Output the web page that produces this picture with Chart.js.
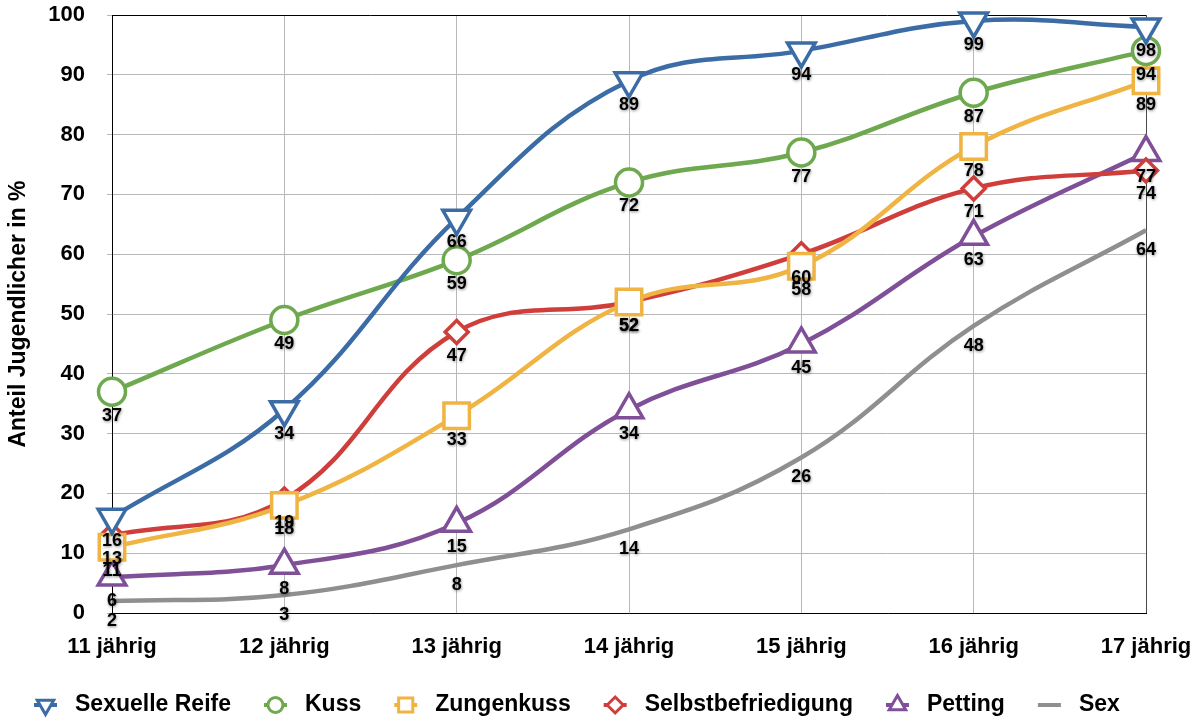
<!DOCTYPE html>
<html>
<head>
<meta charset="utf-8">
<script src="https://cdn.jsdelivr.net/npm/chart.js@4/dist/chart.umd.min.js"></script>
<style>
  html, body { margin: 0; padding: 0; background: #ffffff; }
  #wrap { width: 1196px; height: 722px; position: relative; }
</style>
</head>
<body>
<div id="wrap"><canvas id="chart"></canvas></div>
<script>
// Altersgruppen (x-Achse)
const ageGroups = ['11 jährig', '12 jährig', '13 jährig', '14 jährig', '15 jährig', '16 jährig', '17 jährig'];

// Anteil Jugendlicher in % je Erfahrung
const sexuelleReife      = [16, 34, 66, 89, 94, 99, 98];
const kuss               = [37, 49, 59, 72, 77, 87, 94];
const zungenkuss         = [11, 18, 33, 52, 58, 78, 89];
const selbstbefriedigung = [13, 19, 47, 52, 60, 71, 74];
const petting            = [6, 8, 15, 34, 45, 63, 77];
const sex                = [2, 3, 8, 14, 26, 48, 64];

// y-Achse
const yMin = 0, yMax = 100, yStep = 10;

const FONT = '"Liberation Sans", Arial, Helvetica, sans-serif';

function series(label, data, color, style, radius, rotation) {
  return {
    label, data,
    borderColor: color,
    backgroundColor: color,
    borderWidth: 4.5,
    tension: 0.4,
    pointStyle: style,
    pointRadius: radius,
    pointHoverRadius: radius,
    pointRotation: rotation || 0,
    pointBackgroundColor: '#ffffff',
    pointBorderColor: color,
    pointBorderWidth: 3.5,
    clip: false,
    labelOffset: radius > 0 ? 24 : 20
  };
}

const datasets = [
  series('Sexuelle Reife', sexuelleReife, '#3B6CA5', 'triangle', 16, 180),
  series('Kuss', kuss, '#6EA84F', 'circle', 13.5),
  series('Zungenkuss', zungenkuss, '#F0B443', 'rect', 18),
  series('Selbstbefriedigung', selbstbefriedigung, '#CF3E3A', 'rectRot', 11.5),
  series('Petting', petting, '#7F4F97', 'triangle', 16),
  series('Sex', sex, '#8F8F8F', 'circle', 0)
];

// Rahmen oben und rechts
const frame = {
  id: 'frame',
  beforeDatasetsDraw(chart) {
    const { ctx, chartArea: a } = chart;
    ctx.save();
    ctx.lineWidth = 1;
    ctx.strokeStyle = '#000000';
    ctx.beginPath();
    ctx.moveTo(a.left, Math.round(a.top) + 0.5);
    ctx.lineTo(a.right, Math.round(a.top) + 0.5);
    ctx.stroke();
    ctx.strokeStyle = '#4a4a4a';
    ctx.beginPath();
    ctx.moveTo(Math.round(a.right) + 0.5, a.top);
    ctx.lineTo(Math.round(a.right) + 0.5, a.bottom);
    ctx.stroke();
    ctx.restore();
  }
};

// Wertebeschriftung unter jedem Punkt
const valueLabels = {
  id: 'valueLabels',
  afterDatasetsDraw(chart) {
    const ctx = chart.ctx;
    ctx.save();
    ctx.font = 'bold 18px ' + FONT;
    ctx.textAlign = 'center';
    ctx.textBaseline = 'middle';
    ctx.shadowColor = 'rgba(0,0,0,0.45)';
    ctx.shadowBlur = 3;
    ctx.shadowOffsetX = 0.5;
    ctx.shadowOffsetY = 1;
    ctx.fillStyle = '#000000';
    chart.data.datasets.forEach((ds, i) => {
      const meta = chart.getDatasetMeta(i);
      meta.data.forEach((pt, j) => {
        ctx.fillText(String(ds.data[j]), pt.x, pt.y + ds.labelOffset);
      });
    });
    ctx.restore();
  }
};

// Legende: Liniensegment mit Markierung, daneben Text
const legendRow = {
  id: 'legendRow',
  afterDraw(chart) {
    const ctx = chart.ctx;
    ctx.save();
    ctx.font = 'bold 23px ' + FONT;
    ctx.textBaseline = 'middle';
    const y = 705;
    const segW = 23, gapText = 18, gapItem = 33;
    let x = 34;
    chart.data.datasets.forEach(ds => {
      ctx.strokeStyle = ds.borderColor;
      ctx.lineWidth = 4;
      ctx.beginPath();
      ctx.moveTo(x, y);
      ctx.lineTo(x + segW, y);
      ctx.stroke();
      if (ds.pointRadius > 0) {
        ctx.fillStyle = '#ffffff';
        ctx.strokeStyle = ds.borderColor;
        ctx.lineWidth = 3;
        const r = ds.pointStyle === 'rect' ? 10 : (ds.pointStyle === 'rectRot' ? 8 : (ds.pointStyle === 'circle' ? 7.5 : 9.5));
        Chart.helpers.drawPoint(ctx, {
          pointStyle: ds.pointStyle,
          rotation: ds.pointRotation,
          radius: r,
          borderWidth: 3
        }, x + segW / 2, y);
      }
      x += segW + gapText;
      ctx.fillStyle = '#000000';
      ctx.fillText(ds.label, x, y);
      x += ctx.measureText(ds.label).width + gapItem;
    });
    ctx.restore();
  }
};

new Chart(document.getElementById('chart'), {
  type: 'line',
  data: { labels: ageGroups, datasets },
  options: {
    responsive: true,
    maintainAspectRatio: false,
    animation: false,
    events: [],
    layout: { autoPadding: false, padding: { top: 15, right: 50, bottom: 0, left: 0 } },
    plugins: {
      legend: { display: false },
      tooltip: { enabled: false }
    },
    scales: {
      x: {
        offset: false,
        grid: { color: '#b8b8b8', lineWidth: 1, drawTicks: false },
        border: { color: '#000000', width: 1 },
        ticks: { color: '#000000', font: { family: FONT, size: 22, weight: 'bold' }, padding: 21, maxRotation: 0 },
        afterFit(s) { s.height = 109; s.paddingLeft = 0; s.paddingRight = 0; }
      },
      y: {
        min: yMin, max: yMax,
        grid: { color: '#b8b8b8', lineWidth: 1, tickLength: 5 },
        border: { color: '#000000', width: 1 },
        ticks: { stepSize: yStep, color: '#000000', font: { family: FONT, size: 22, weight: 'bold' }, padding: 22 },
        title: {
          display: true,
          text: 'Anteil Jugendlicher in %',
          color: '#000000',
          font: { family: FONT, size: 23, weight: 'bold' },
          padding: { top: 5, bottom: 0 }
        },
        afterFit(s) { s.width = 112; s.paddingTop = 0; s.paddingBottom = 0; }
      }
    }
  },
  plugins: [frame, valueLabels, legendRow]
});
</script>
</body>
</html>
